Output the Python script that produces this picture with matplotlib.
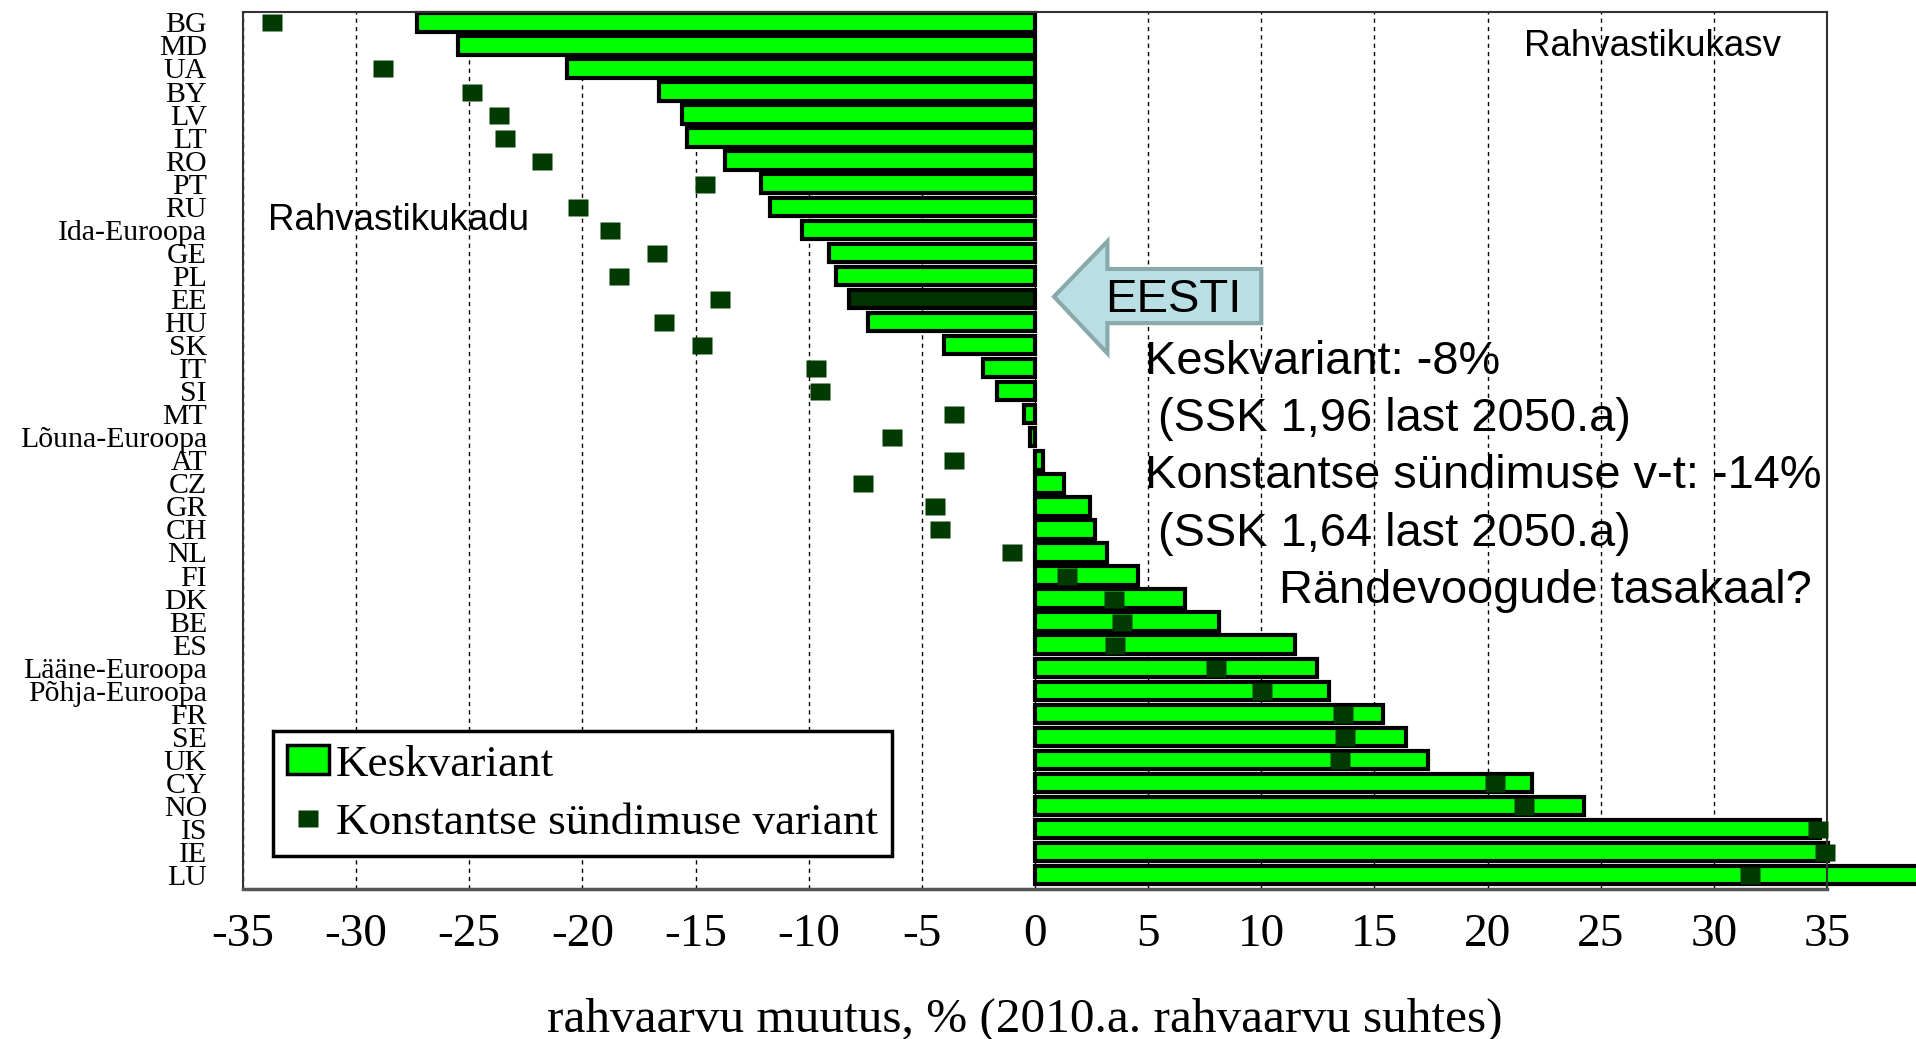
import numpy as np
import matplotlib
matplotlib.use('Agg')
import matplotlib.pyplot as plt
from matplotlib.patches import Patch, Polygon
from matplotlib.lines import Line2D

plt.rcParams['font.family'] = ['Liberation Serif', 'DejaVu Serif']
plt.rcParams['axes.unicode_minus'] = False

countries = ['BG', 'MD', 'UA', 'BY', 'LV', 'LT', 'RO', 'PT', 'RU', 'Ida-Euroopa',
             'GE', 'PL', 'EE', 'HU', 'SK', 'IT', 'SI', 'MT', 'Lõuna-Euroopa',
             'AT', 'CZ', 'GR', 'CH', 'NL', 'FI', 'DK', 'BE', 'ES', 'Lääne-Euroopa',
             'Põhja-Euroopa', 'FR', 'SE', 'UK', 'CY', 'NO', 'IS', 'IE', 'LU']

# keskvariant, % muutus
kesk = [-27.3, -25.5, -20.7, -16.6, -15.6, -15.4, -13.7, -12.1, -11.7, -10.3,
        -9.1, -8.8, -8.2, -7.4, -4.0, -2.3, -1.7, -0.5, -0.2,
        0.35, 1.3, 2.45, 2.65, 3.2, 4.55, 6.65, 8.15, 11.5, 12.45,
        13.0, 15.4, 16.4, 17.35, 21.95, 24.25, 34.7, 35.05, 41.0]

# konstantse sündimuse variant (MD jääb graafikult välja)
kons = [-33.7, np.nan, -28.8, -24.9, -23.7, -23.4, -21.8, -14.6, -20.2, -18.8,
        -16.7, -18.4, -13.9, -16.4, -14.7, -9.7, -9.5, -3.6, -6.3,
        -3.6, -7.6, -4.4, -4.2, -1.0, 1.4, 3.5, 3.85, 3.55, 8.0,
        10.05, 13.6, 13.7, 13.5, 20.35, 21.6, 34.6, 34.9, 31.6]

xticks = list(range(-35, 36, 5))

green = '#00ff00'
dark = '#003a00'
sq = [(-1, -0.85), (1, -0.85), (1, 0.85), (-1, 0.85), (-1, -0.85)]

fig = plt.figure(figsize=(19.16, 10.39), dpi=100)
ax = fig.add_axes([243 / 1916, 1 - 889 / 1039, (1827 - 243) / 1916, (889 - 12) / 1039])

y = np.arange(len(countries))
cols = ['#003300' if c == 'EE' else green for c in countries]
ax.barh(y, kesk, height=0.8, color=cols, edgecolor='black', linewidth=3,
        zorder=2, clip_on=False)
ax.plot(kons, y, ls='none', marker=sq, ms=14.4, mfc=dark, mec='none',
        zorder=3, clip_on=False)

ax.set_xlim(-35, 35)
ax.set_ylim(37.6, -0.45)
ax.set_xticks(xticks)
ax.set_xticklabels([str(t) for t in xticks])
ax.set_yticks(y)
ax.set_yticklabels(countries)
ax.xaxis.grid(True, ls=(0, (3, 3)), color='black', lw=1)
ax.set_axisbelow(True)
ax.tick_params(axis='both', length=0)
ax.tick_params(axis='x', labelsize=34, pad=18)
ax.tick_params(axis='y', labelsize=21.5, pad=26)
for s in ax.spines.values():
    s.set_color('#333333')
    s.set_linewidth(1.5)
ax.spines['bottom'].set_color('#555555')
ax.spines['bottom'].set_linewidth(2.5)

# tekstid
sans = 'Liberation Sans'
big = 33.8
ax.text(-33.9, 8.6, 'Rahvastikukadu', family=sans, fontsize=26.5, va='center', zorder=5)
ax.text(21.6, 1.04, 'Rahvastikukasv', family=sans, fontsize=26.5, va='center', zorder=5)
ax.text(4.87, 14.75, 'Keskvariant: -8%', family=sans, fontsize=big, va='center', zorder=5)
ax.text(4.87, 17.2, ' (SSK 1,96 last 2050.a)', family=sans, fontsize=big, va='center', zorder=5)
ax.text(4.87, 19.67, 'Konstantse sündimuse v-t: -14%', family=sans, fontsize=big,
        va='center', zorder=5, clip_on=False)
ax.text(4.87, 22.2, ' (SSK 1,64 last 2050.a)', family=sans, fontsize=big, va='center', zorder=5)
ax.text(10.8, 24.65, 'Rändevoogude tasakaal?', family=sans, fontsize=big, va='center', zorder=5)

# EESTI nool
arrow = Polygon([(0.84, 11.9), (3.2, 9.5), (3.2, 10.7), (10.0, 10.7), (10.0, 13.05),
                 (3.2, 13.05), (3.2, 14.36)], closed=True, fc='#b9dfe4', ec='#8aa9aa',
                lw=3, zorder=4)
ax.add_patch(arrow)
ax.text(3.1, 12.06, 'EESTI', family=sans, fontsize=34, va='center', zorder=5)

handles = [Patch(fc=green, ec='black', lw=2.5),
           Line2D([], [], ls='none', marker=sq, ms=14.4, mfc=dark, mec='none')]
leg = ax.legend(handles, ['Keskvariant', 'Konstantse sündimuse variant'],
                loc='upper left', bbox_to_anchor=(273 / 1916, 1 - 731 / 1039),
                bbox_transform=fig.transFigure, prop={'family': 'Liberation Serif', 'size': 32.5},
                frameon=True, fancybox=False, edgecolor='black', framealpha=1,
                handlelength=0.95, handleheight=0.6, handletextpad=0.15,
                borderpad=0.3, labelspacing=0.4, borderaxespad=0)
leg.get_frame().set_linewidth(2.5)
leg.set_zorder(6)

fig.text(1025 / 1916, 1 - 1020 / 1039, 'rahvaarvu muutus, % (2010.a. rahvaarvu suhtes)',
         ha='center', va='center', fontsize=35.5)

fig.savefig('out.png', dpi=100)
